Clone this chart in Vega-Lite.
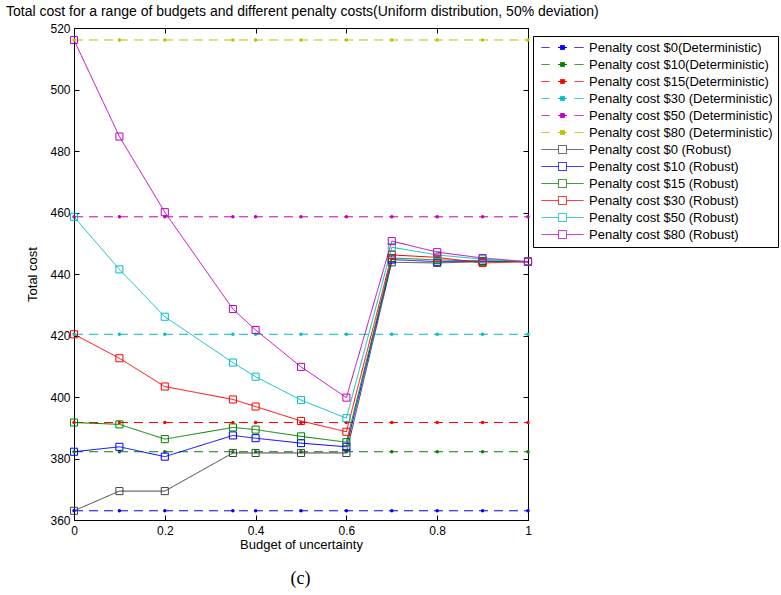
{
  "$schema": "https://vega.github.io/schema/vega-lite/v6.json",
  "autosize": {"type": "none"},
  "width": 454,
  "height": 492,
  "padding": {"left": 74, "top": 28, "right": 253, "bottom": 75},
  "background": "white",
  "title": {
    "text": "Total cost for a range of budgets and different penalty costs(Uniform distribution, 50% deviation)",
    "anchor": "start",
    "frame": "group",
    "dx": -68,
    "offset": 3,
    "font": "Liberation Sans",
    "fontSize": 14,
    "fontWeight": "normal",
    "color": "black"
  },
  "config": {
    "view": {"stroke": "black", "strokeWidth": 1},
    "axis": {
      "grid": false,
      "domainColor": "black",
      "tickColor": "black",
      "labelColor": "black",
      "titleColor": "black",
      "labelFont": "Liberation Sans",
      "titleFont": "Liberation Sans",
      "labelFontSize": 12,
      "titleFontSize": 13,
      "titleFontWeight": "normal",
      "tickSize": -5
    },
    "legend": {
      "orient": "none",
      "legendX": 459,
      "legendY": 8,
      "strokeColor": "black",
      "fillColor": "white",
      "padding": 5,
      "symbolSize": 100,
      "labelOffset": 38,
      "rowPadding": 3,
      "labelFont": "Liberation Sans",
      "labelFontSize": 13,
      "labelColor": "black",
      "labelLimit": 400,
      "symbolStrokeWidth": 1
    }
  },
  "data": {
    "values": [
      {"series": "Penalty cost $0(Deterministic)", "kind": "Deterministic", "budget": 0, "cost": 363.0},
      {"series": "Penalty cost $0(Deterministic)", "kind": "Deterministic", "budget": 0.1, "cost": 363.0},
      {"series": "Penalty cost $0(Deterministic)", "kind": "Deterministic", "budget": 0.2, "cost": 363.0},
      {"series": "Penalty cost $0(Deterministic)", "kind": "Deterministic", "budget": 0.35, "cost": 363.0},
      {"series": "Penalty cost $0(Deterministic)", "kind": "Deterministic", "budget": 0.4, "cost": 363.0},
      {"series": "Penalty cost $0(Deterministic)", "kind": "Deterministic", "budget": 0.5, "cost": 363.0},
      {"series": "Penalty cost $0(Deterministic)", "kind": "Deterministic", "budget": 0.6, "cost": 363.0},
      {"series": "Penalty cost $0(Deterministic)", "kind": "Deterministic", "budget": 0.7, "cost": 363.0},
      {"series": "Penalty cost $0(Deterministic)", "kind": "Deterministic", "budget": 0.8, "cost": 363.0},
      {"series": "Penalty cost $0(Deterministic)", "kind": "Deterministic", "budget": 0.9, "cost": 363.0},
      {"series": "Penalty cost $0(Deterministic)", "kind": "Deterministic", "budget": 1, "cost": 363.0},
      {"series": "Penalty cost $10(Deterministic)", "kind": "Deterministic", "budget": 0, "cost": 382.2},
      {"series": "Penalty cost $10(Deterministic)", "kind": "Deterministic", "budget": 0.1, "cost": 382.2},
      {"series": "Penalty cost $10(Deterministic)", "kind": "Deterministic", "budget": 0.2, "cost": 382.2},
      {"series": "Penalty cost $10(Deterministic)", "kind": "Deterministic", "budget": 0.35, "cost": 382.2},
      {"series": "Penalty cost $10(Deterministic)", "kind": "Deterministic", "budget": 0.4, "cost": 382.2},
      {"series": "Penalty cost $10(Deterministic)", "kind": "Deterministic", "budget": 0.5, "cost": 382.2},
      {"series": "Penalty cost $10(Deterministic)", "kind": "Deterministic", "budget": 0.6, "cost": 382.2},
      {"series": "Penalty cost $10(Deterministic)", "kind": "Deterministic", "budget": 0.7, "cost": 382.2},
      {"series": "Penalty cost $10(Deterministic)", "kind": "Deterministic", "budget": 0.8, "cost": 382.2},
      {"series": "Penalty cost $10(Deterministic)", "kind": "Deterministic", "budget": 0.9, "cost": 382.2},
      {"series": "Penalty cost $10(Deterministic)", "kind": "Deterministic", "budget": 1, "cost": 382.2},
      {"series": "Penalty cost $15(Deterministic)", "kind": "Deterministic", "budget": 0, "cost": 391.7},
      {"series": "Penalty cost $15(Deterministic)", "kind": "Deterministic", "budget": 0.1, "cost": 391.7},
      {"series": "Penalty cost $15(Deterministic)", "kind": "Deterministic", "budget": 0.2, "cost": 391.7},
      {"series": "Penalty cost $15(Deterministic)", "kind": "Deterministic", "budget": 0.35, "cost": 391.7},
      {"series": "Penalty cost $15(Deterministic)", "kind": "Deterministic", "budget": 0.4, "cost": 391.7},
      {"series": "Penalty cost $15(Deterministic)", "kind": "Deterministic", "budget": 0.5, "cost": 391.7},
      {"series": "Penalty cost $15(Deterministic)", "kind": "Deterministic", "budget": 0.6, "cost": 391.7},
      {"series": "Penalty cost $15(Deterministic)", "kind": "Deterministic", "budget": 0.7, "cost": 391.7},
      {"series": "Penalty cost $15(Deterministic)", "kind": "Deterministic", "budget": 0.8, "cost": 391.7},
      {"series": "Penalty cost $15(Deterministic)", "kind": "Deterministic", "budget": 0.9, "cost": 391.7},
      {"series": "Penalty cost $15(Deterministic)", "kind": "Deterministic", "budget": 1, "cost": 391.7},
      {"series": "Penalty cost $30 (Deterministic)", "kind": "Deterministic", "budget": 0, "cost": 420.4},
      {"series": "Penalty cost $30 (Deterministic)", "kind": "Deterministic", "budget": 0.1, "cost": 420.4},
      {"series": "Penalty cost $30 (Deterministic)", "kind": "Deterministic", "budget": 0.2, "cost": 420.4},
      {"series": "Penalty cost $30 (Deterministic)", "kind": "Deterministic", "budget": 0.35, "cost": 420.4},
      {"series": "Penalty cost $30 (Deterministic)", "kind": "Deterministic", "budget": 0.4, "cost": 420.4},
      {"series": "Penalty cost $30 (Deterministic)", "kind": "Deterministic", "budget": 0.5, "cost": 420.4},
      {"series": "Penalty cost $30 (Deterministic)", "kind": "Deterministic", "budget": 0.6, "cost": 420.4},
      {"series": "Penalty cost $30 (Deterministic)", "kind": "Deterministic", "budget": 0.7, "cost": 420.4},
      {"series": "Penalty cost $30 (Deterministic)", "kind": "Deterministic", "budget": 0.8, "cost": 420.4},
      {"series": "Penalty cost $30 (Deterministic)", "kind": "Deterministic", "budget": 0.9, "cost": 420.4},
      {"series": "Penalty cost $30 (Deterministic)", "kind": "Deterministic", "budget": 1, "cost": 420.4},
      {"series": "Penalty cost $50 (Deterministic)", "kind": "Deterministic", "budget": 0, "cost": 458.6},
      {"series": "Penalty cost $50 (Deterministic)", "kind": "Deterministic", "budget": 0.1, "cost": 458.6},
      {"series": "Penalty cost $50 (Deterministic)", "kind": "Deterministic", "budget": 0.2, "cost": 458.6},
      {"series": "Penalty cost $50 (Deterministic)", "kind": "Deterministic", "budget": 0.35, "cost": 458.6},
      {"series": "Penalty cost $50 (Deterministic)", "kind": "Deterministic", "budget": 0.4, "cost": 458.6},
      {"series": "Penalty cost $50 (Deterministic)", "kind": "Deterministic", "budget": 0.5, "cost": 458.6},
      {"series": "Penalty cost $50 (Deterministic)", "kind": "Deterministic", "budget": 0.6, "cost": 458.6},
      {"series": "Penalty cost $50 (Deterministic)", "kind": "Deterministic", "budget": 0.7, "cost": 458.6},
      {"series": "Penalty cost $50 (Deterministic)", "kind": "Deterministic", "budget": 0.8, "cost": 458.6},
      {"series": "Penalty cost $50 (Deterministic)", "kind": "Deterministic", "budget": 0.9, "cost": 458.6},
      {"series": "Penalty cost $50 (Deterministic)", "kind": "Deterministic", "budget": 1, "cost": 458.6},
      {"series": "Penalty cost $80 (Deterministic)", "kind": "Deterministic", "budget": 0, "cost": 516.1},
      {"series": "Penalty cost $80 (Deterministic)", "kind": "Deterministic", "budget": 0.1, "cost": 516.1},
      {"series": "Penalty cost $80 (Deterministic)", "kind": "Deterministic", "budget": 0.2, "cost": 516.1},
      {"series": "Penalty cost $80 (Deterministic)", "kind": "Deterministic", "budget": 0.35, "cost": 516.1},
      {"series": "Penalty cost $80 (Deterministic)", "kind": "Deterministic", "budget": 0.4, "cost": 516.1},
      {"series": "Penalty cost $80 (Deterministic)", "kind": "Deterministic", "budget": 0.5, "cost": 516.1},
      {"series": "Penalty cost $80 (Deterministic)", "kind": "Deterministic", "budget": 0.6, "cost": 516.1},
      {"series": "Penalty cost $80 (Deterministic)", "kind": "Deterministic", "budget": 0.7, "cost": 516.1},
      {"series": "Penalty cost $80 (Deterministic)", "kind": "Deterministic", "budget": 0.8, "cost": 516.1},
      {"series": "Penalty cost $80 (Deterministic)", "kind": "Deterministic", "budget": 0.9, "cost": 516.1},
      {"series": "Penalty cost $80 (Deterministic)", "kind": "Deterministic", "budget": 1, "cost": 516.1},
      {"series": "Penalty cost $0 (Robust)", "kind": "Robust", "budget": 0, "cost": 363.0},
      {"series": "Penalty cost $0 (Robust)", "kind": "Robust", "budget": 0.1, "cost": 369.4},
      {"series": "Penalty cost $0 (Robust)", "kind": "Robust", "budget": 0.2, "cost": 369.4},
      {"series": "Penalty cost $0 (Robust)", "kind": "Robust", "budget": 0.35, "cost": 381.8},
      {"series": "Penalty cost $0 (Robust)", "kind": "Robust", "budget": 0.4, "cost": 381.8},
      {"series": "Penalty cost $0 (Robust)", "kind": "Robust", "budget": 0.5, "cost": 381.8},
      {"series": "Penalty cost $0 (Robust)", "kind": "Robust", "budget": 0.6, "cost": 381.8},
      {"series": "Penalty cost $0 (Robust)", "kind": "Robust", "budget": 0.7, "cost": 443.8},
      {"series": "Penalty cost $0 (Robust)", "kind": "Robust", "budget": 0.8, "cost": 443.6},
      {"series": "Penalty cost $0 (Robust)", "kind": "Robust", "budget": 0.9, "cost": 444.0},
      {"series": "Penalty cost $0 (Robust)", "kind": "Robust", "budget": 1, "cost": 444.0},
      {"series": "Penalty cost $10 (Robust)", "kind": "Robust", "budget": 0, "cost": 382.2},
      {"series": "Penalty cost $10 (Robust)", "kind": "Robust", "budget": 0.1, "cost": 383.8},
      {"series": "Penalty cost $10 (Robust)", "kind": "Robust", "budget": 0.2, "cost": 380.6},
      {"series": "Penalty cost $10 (Robust)", "kind": "Robust", "budget": 0.35, "cost": 387.5},
      {"series": "Penalty cost $10 (Robust)", "kind": "Robust", "budget": 0.4, "cost": 386.6},
      {"series": "Penalty cost $10 (Robust)", "kind": "Robust", "budget": 0.5, "cost": 385.0},
      {"series": "Penalty cost $10 (Robust)", "kind": "Robust", "budget": 0.6, "cost": 383.8},
      {"series": "Penalty cost $10 (Robust)", "kind": "Robust", "budget": 0.7, "cost": 444.7},
      {"series": "Penalty cost $10 (Robust)", "kind": "Robust", "budget": 0.8, "cost": 444.0},
      {"series": "Penalty cost $10 (Robust)", "kind": "Robust", "budget": 0.9, "cost": 444.2},
      {"series": "Penalty cost $10 (Robust)", "kind": "Robust", "budget": 1, "cost": 444.0},
      {"series": "Penalty cost $15 (Robust)", "kind": "Robust", "budget": 0, "cost": 391.7},
      {"series": "Penalty cost $15 (Robust)", "kind": "Robust", "budget": 0.1, "cost": 391.1},
      {"series": "Penalty cost $15 (Robust)", "kind": "Robust", "budget": 0.2, "cost": 386.3},
      {"series": "Penalty cost $15 (Robust)", "kind": "Robust", "budget": 0.35, "cost": 390.1},
      {"series": "Penalty cost $15 (Robust)", "kind": "Robust", "budget": 0.4, "cost": 389.4},
      {"series": "Penalty cost $15 (Robust)", "kind": "Robust", "budget": 0.5, "cost": 387.2},
      {"series": "Penalty cost $15 (Robust)", "kind": "Robust", "budget": 0.6, "cost": 385.3},
      {"series": "Penalty cost $15 (Robust)", "kind": "Robust", "budget": 0.7, "cost": 445.2},
      {"series": "Penalty cost $15 (Robust)", "kind": "Robust", "budget": 0.8, "cost": 444.6},
      {"series": "Penalty cost $15 (Robust)", "kind": "Robust", "budget": 0.9, "cost": 444.2},
      {"series": "Penalty cost $15 (Robust)", "kind": "Robust", "budget": 1, "cost": 444.0},
      {"series": "Penalty cost $30 (Robust)", "kind": "Robust", "budget": 0, "cost": 420.4},
      {"series": "Penalty cost $30 (Robust)", "kind": "Robust", "budget": 0.1, "cost": 412.6},
      {"series": "Penalty cost $30 (Robust)", "kind": "Robust", "budget": 0.2, "cost": 403.4},
      {"series": "Penalty cost $30 (Robust)", "kind": "Robust", "budget": 0.35, "cost": 399.2},
      {"series": "Penalty cost $30 (Robust)", "kind": "Robust", "budget": 0.4, "cost": 396.9},
      {"series": "Penalty cost $30 (Robust)", "kind": "Robust", "budget": 0.5, "cost": 392.2},
      {"series": "Penalty cost $30 (Robust)", "kind": "Robust", "budget": 0.6, "cost": 388.7},
      {"series": "Penalty cost $30 (Robust)", "kind": "Robust", "budget": 0.7, "cost": 446.2},
      {"series": "Penalty cost $30 (Robust)", "kind": "Robust", "budget": 0.8, "cost": 445.4},
      {"series": "Penalty cost $30 (Robust)", "kind": "Robust", "budget": 0.9, "cost": 443.6},
      {"series": "Penalty cost $30 (Robust)", "kind": "Robust", "budget": 1, "cost": 444.0},
      {"series": "Penalty cost $50 (Robust)", "kind": "Robust", "budget": 0, "cost": 458.6},
      {"series": "Penalty cost $50 (Robust)", "kind": "Robust", "budget": 0.1, "cost": 441.5},
      {"series": "Penalty cost $50 (Robust)", "kind": "Robust", "budget": 0.2, "cost": 426.1},
      {"series": "Penalty cost $50 (Robust)", "kind": "Robust", "budget": 0.35, "cost": 411.2},
      {"series": "Penalty cost $50 (Robust)", "kind": "Robust", "budget": 0.4, "cost": 406.6},
      {"series": "Penalty cost $50 (Robust)", "kind": "Robust", "budget": 0.5, "cost": 399.0},
      {"series": "Penalty cost $50 (Robust)", "kind": "Robust", "budget": 0.6, "cost": 393.1},
      {"series": "Penalty cost $50 (Robust)", "kind": "Robust", "budget": 0.7, "cost": 448.7},
      {"series": "Penalty cost $50 (Robust)", "kind": "Robust", "budget": 0.8, "cost": 446.2},
      {"series": "Penalty cost $50 (Robust)", "kind": "Robust", "budget": 0.9, "cost": 444.8},
      {"series": "Penalty cost $50 (Robust)", "kind": "Robust", "budget": 1, "cost": 444.0},
      {"series": "Penalty cost $80 (Robust)", "kind": "Robust", "budget": 0, "cost": 516.1},
      {"series": "Penalty cost $80 (Robust)", "kind": "Robust", "budget": 0.1, "cost": 484.7},
      {"series": "Penalty cost $80 (Robust)", "kind": "Robust", "budget": 0.2, "cost": 460.1},
      {"series": "Penalty cost $80 (Robust)", "kind": "Robust", "budget": 0.35, "cost": 428.6},
      {"series": "Penalty cost $80 (Robust)", "kind": "Robust", "budget": 0.4, "cost": 421.8},
      {"series": "Penalty cost $80 (Robust)", "kind": "Robust", "budget": 0.5, "cost": 409.8},
      {"series": "Penalty cost $80 (Robust)", "kind": "Robust", "budget": 0.6, "cost": 399.8},
      {"series": "Penalty cost $80 (Robust)", "kind": "Robust", "budget": 0.7, "cost": 450.7},
      {"series": "Penalty cost $80 (Robust)", "kind": "Robust", "budget": 0.8, "cost": 447.1},
      {"series": "Penalty cost $80 (Robust)", "kind": "Robust", "budget": 0.9, "cost": 445.2},
      {"series": "Penalty cost $80 (Robust)", "kind": "Robust", "budget": 1, "cost": 444.0}
    ]
  },
  "resolve": {"axis": {"x": "independent", "y": "independent"}},
  "layer": [
    {
      "mark": {"type": "line", "strokeWidth": 1},
      "encoding": {
        "x": {
          "field": "budget", "type": "quantitative",
          "scale": {"domain": [0, 1], "nice": false, "zero": false},
          "axis": {"orient": "bottom", "values": [0, 0.2, 0.4, 0.6, 0.8, 1], "format": "~g", "title": "Budget of uncertainty", "labelPadding": 10, "titlePadding": 2, "labelFlush": false}
        },
        "y": {
          "field": "cost", "type": "quantitative",
          "scale": {"domain": [360, 520], "nice": false, "zero": false},
          "axis": {"orient": "left", "values": [360, 380, 400, 420, 440, 460, 480, 500, 520], "title": "Total cost", "labelPadding": 9, "titlePadding": 10, "labelFlush": false}
        },
        "color": {
          "field": "series", "type": "nominal",
          "scale": {
            "domain": ["Penalty cost $0(Deterministic)", "Penalty cost $10(Deterministic)", "Penalty cost $15(Deterministic)", "Penalty cost $30 (Deterministic)", "Penalty cost $50 (Deterministic)", "Penalty cost $80 (Deterministic)", "Penalty cost $0 (Robust)", "Penalty cost $10 (Robust)", "Penalty cost $15 (Robust)", "Penalty cost $30 (Robust)", "Penalty cost $50 (Robust)", "Penalty cost $80 (Robust)"],
            "range": ["#0000ff", "#008000", "#ff0000", "#00bfbf", "#bf00bf", "#bfbf00", "#404040", "#0000ff", "#008000", "#ff0000", "#00bfbf", "#bf00bf"]
          },
          "legend": {
            "title": null,
            "encode": {
              "symbols": {
                "update": {
                  "shape": {"signal": "indexof(datum.value, 'Robust') >= 0 ? 'M-0.6,0H2.8M4.4,0H7.8M2.8,-0.8H4.4V0.8H2.8Z' : 'M-0.6,0H1.0M2.7,0H4.5M6.0,0H7.8M3.2,-0.4H4.0V0.4H3.2Z'"},
                  "fill": {"signal": "indexof(datum.value, 'Robust') >= 0 ? 'white' : scale('color', datum.value)"},
                  "fillOpacity": {"signal": "indexof(datum.value, 'Robust') >= 0 ? 0 : 1"},
                  "stroke": {"signal": "scale('color', datum.value)"},
                  "strokeDash": {"value": [1, 0]},
                  "strokeWidth": {"value": 1},
                  "opacity": {"value": 1}
                }
              }
            }
          }
        },
        "strokeDash": {
          "field": "kind", "type": "nominal",
          "scale": {"domain": ["Deterministic", "Robust"], "range": [[9, 6], [1, 0]]},
          "legend": null
        }
      }
    },
    {
      "transform": [{"filter": "datum.kind == 'Deterministic'"}],
      "mark": {"type": "point", "shape": "circle", "filled": true, "size": 12, "opacity": 1},
      "encoding": {
        "x": {
          "field": "budget", "type": "quantitative",
          "axis": {"orient": "top", "values": [0, 0.2, 0.4, 0.6, 0.8, 1], "labels": false, "title": null}
        },
        "y": {
          "field": "cost", "type": "quantitative",
          "axis": {"orient": "right", "values": [360, 380, 400, 420, 440, 460, 480, 500, 520], "labels": false, "title": "(c)", "titleAngle": 0, "titleX": -228, "titleY": 550, "titleAlign": "center", "titleBaseline": "middle", "titleFont": "Liberation Serif", "titleFontSize": 18}
        },
        "color": {"field": "series", "type": "nominal", "legend": null}
      }
    },
    {
      "transform": [{"filter": "datum.kind == 'Robust'"}],
      "mark": {"type": "point", "shape": "square", "filled": false, "size": 50, "strokeWidth": 1, "opacity": 1},
      "encoding": {
        "x": {"field": "budget", "type": "quantitative", "axis": null},
        "y": {"field": "cost", "type": "quantitative", "axis": null},
        "color": {"field": "series", "type": "nominal", "legend": null}
      }
    }
  ]
}
